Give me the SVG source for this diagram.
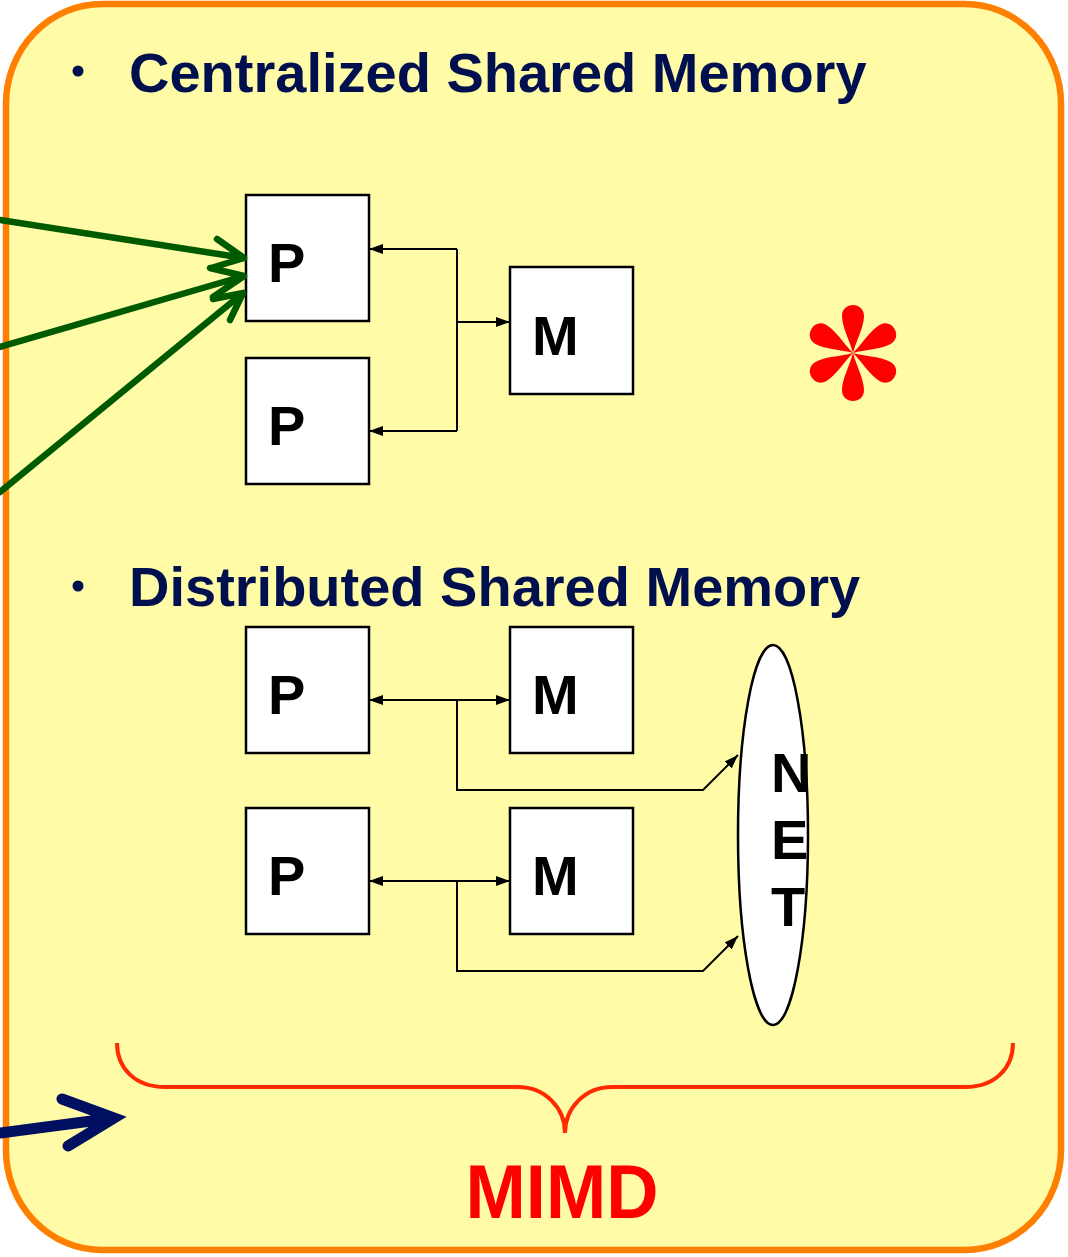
<svg xmlns="http://www.w3.org/2000/svg" width="1068" height="1257" viewBox="0 0 1068 1257">
<defs>
<style>
.box{fill:#fff;stroke:#000;stroke-width:2.5}
.lbl{font-family:"Liberation Sans",Arial,sans-serif;font-weight:bold;font-size:56px;fill:#000}
.head{font-family:"Liberation Sans",Arial,sans-serif;font-weight:bold;font-size:56px;fill:#00104F}
.con{fill:none;stroke:#000;stroke-width:2}
.green{fill:none;stroke:#005A00;stroke-width:6.5;stroke-linecap:round;stroke-linejoin:round}
</style>
<marker id="ah" viewBox="0 0 14 10" refX="14" refY="5" markerWidth="14" markerHeight="10" markerUnits="userSpaceOnUse" orient="auto-start-reverse">
<path d="M0,0 L14,5 L0,10 Z" fill="#000"/>
</marker>
<path id="petal" d="M0,0 C-3,-12 -11,-26 -11,-37 C-11,-44 -6,-48 0,-48 C6,-48 11,-44 11,-37 C11,-26 3,-12 0,0 Z" fill="#FF0000"/>
</defs>
<g id="frame">
<rect x="6" y="4" width="1055" height="1246" rx="96" ry="100" fill="#FFFBA6" stroke="#FF8000" stroke-width="6.5"/>
</g>
<g id="headings">
<circle cx="78" cy="71" r="5.5" fill="#00104F"/>
<text class="head" x="129" y="92">Centralized Shared Memory</text>
<circle cx="78" cy="586" r="5.5" fill="#00104F"/>
<text class="head" x="129" y="606">Distributed Shared Memory</text>
</g>
<g id="P1"><rect class="box" x="246" y="195" width="123" height="126"/><text class="lbl" x="268" y="282">P</text></g>
<g id="P2"><rect class="box" x="246" y="358" width="123" height="126"/><text class="lbl" x="268" y="445">P</text></g>
<g id="M1"><rect class="box" x="510" y="267" width="123" height="127"/><text class="lbl" x="532" y="355">M</text></g>
<g id="P3"><rect class="box" x="246" y="627" width="123" height="126"/><text class="lbl" x="268" y="714">P</text></g>
<g id="M3"><rect class="box" x="510" y="627" width="123" height="126"/><text class="lbl" x="532" y="714">M</text></g>
<g id="P4"><rect class="box" x="246" y="808" width="123" height="126"/><text class="lbl" x="268" y="895">P</text></g>
<g id="M4"><rect class="box" x="510" y="808" width="123" height="126"/><text class="lbl" x="532" y="895">M</text></g>
<g id="NET">
<ellipse cx="773" cy="835" rx="35" ry="190" fill="#fff" stroke="#000" stroke-width="2.5"/>
<text class="lbl" x="771" y="792">N</text>
<text class="lbl" x="771" y="859">E</text>
<text class="lbl" x="771" y="926">T</text>
</g>
<g id="star" transform="translate(853,353)">
<use href="#petal"/>
<use href="#petal" transform="rotate(60)"/>
<use href="#petal" transform="rotate(120)"/>
<use href="#petal" transform="rotate(180)"/>
<use href="#petal" transform="rotate(240)"/>
<use href="#petal" transform="rotate(300)"/>
</g>
<g id="connectors">
<line class="con" x1="457" y1="249" x2="457" y2="431"/>
<line class="con" x1="457" y1="249" x2="369" y2="249" marker-end="url(#ah)"/>
<line class="con" x1="457" y1="431" x2="369" y2="431" marker-end="url(#ah)"/>
<line class="con" x1="457" y1="322" x2="510" y2="322" marker-end="url(#ah)"/>
<line class="con" x1="369" y1="700" x2="510" y2="700" marker-start="url(#ah)" marker-end="url(#ah)"/>
<polyline class="con" points="457,700 457,790 703,790 738,755" marker-end="url(#ah)"/>
<line class="con" x1="369" y1="881" x2="510" y2="881" marker-start="url(#ah)" marker-end="url(#ah)"/>
<polyline class="con" points="457,881 457,971 703,971 738,936" marker-end="url(#ah)"/>
<g class="green">
<path d="M0,220 L244,258 M217,239 L244,258 L211,268"/>
<path d="M0,347 L244,276 M210,268 L244,276 L213,297"/>
<path d="M0,492 L243,293 M213,299 L243,293 L230,320"/>
</g>
<path d="M0,1133 L114,1118 M62,1099 L114,1118 L68,1146" fill="none" stroke="#001060" stroke-width="11" stroke-linecap="round" stroke-linejoin="miter"/>
</g>
<g id="brace">
<path d="M117,1043 C117,1068 135,1087 165,1087 L518,1087 C545,1087 565,1108 565,1133 C565,1108 585,1087 612,1087 L965,1087 C995,1087 1013,1068 1013,1043" fill="none" stroke="#FF2A00" stroke-width="4"/>
<text x="562" y="1218" text-anchor="middle" font-family="'Liberation Sans',Arial,sans-serif" font-weight="bold" font-size="76" textLength="193" lengthAdjust="spacingAndGlyphs" fill="#FF0000">MIMD</text>
</g>
</svg>
